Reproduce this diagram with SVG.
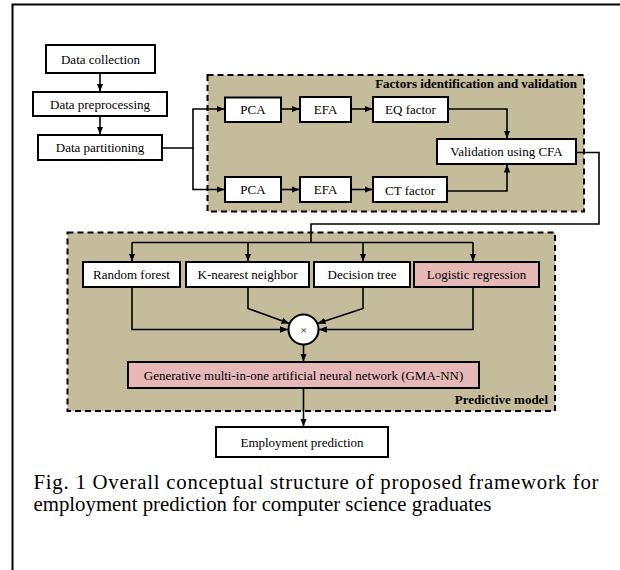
<svg xmlns="http://www.w3.org/2000/svg" width="620" height="570" viewBox="0 0 620 570">
<defs>
<marker id="ah" markerUnits="userSpaceOnUse" markerWidth="8" markerHeight="8" viewBox="0 0 8 8" refX="8" refY="4" orient="auto">
<path d="M0,0.8 L8,4 L0,7.2 Z" fill="#000"/>
</marker>
<style>
.box{fill:#fff;stroke:#000;stroke-width:2}
.pink{fill:#E6B8B7;stroke:#000;stroke-width:2}
.grp{fill:#C4BC9A;stroke:#000;stroke-width:2;stroke-dasharray:6 4}
.t{font-family:"Liberation Serif","Times New Roman",serif;font-size:13px;fill:#000;text-anchor:middle}
.b{font-family:"Liberation Serif","Times New Roman",serif;font-size:13px;font-weight:bold;fill:#000;text-anchor:end}
.c{fill:none;stroke:#000;stroke-width:1.6}
.a{marker-end:url(#ah)}
.cap{font-family:"Liberation Serif","Times New Roman",serif;font-size:20.8px;fill:#000}
</style>
</defs>
<rect width="620" height="570" fill="#fff"/>
<path d="M12.5,570 V4.5 H620" fill="none" stroke="#000" stroke-width="2"/>

<g id="group-factors">
<rect class="grp" x="207.5" y="75" width="376.5" height="136.5"/>
<text class="b" x="577" y="88">Factors identification and validation</text>
</g>
<g id="group-predictive">
<rect class="grp" x="67.5" y="232.5" width="487.5" height="178.5"/>
<text class="b" x="548" y="404">Predictive model</text>
</g>

<g id="connectors">
<path class="c a" d="M100,72.5 V91.5"/>
<path class="c a" d="M100,116 V134.5"/>
<path class="c a" d="M162,148 H193 V109 H224.5"/>
<path class="c a" d="M193,148 V189.5 H224.5"/>
<path class="c a" d="M281,109 H299.5"/>
<path class="c a" d="M281,189.5 H299.5"/>
<path class="c a" d="M351,109 H372.5"/>
<path class="c a" d="M351,189.5 H372.5"/>
<path class="c a" d="M448,109 H507 V138.5"/>
<path class="c a" d="M447,191 H507 V164.5"/>
<path class="c" d="M576,152.5 H599 V224 H311 V242.5"/>
<path class="c" d="M132,242.5 H473"/>
<path class="c a" d="M132,242.5 V261.5"/>
<path class="c a" d="M248,242.5 V261.5"/>
<path class="c a" d="M363,242.5 V261.5"/>
<path class="c a" d="M473,242.5 V261.5"/>
<path class="c a" d="M132,287 V329.5 H288"/>
<path class="c a" d="M248,287 V308.5 L289.5,323.5"/>
<path class="c a" d="M363,287 V308.5 L317.5,323.5"/>
<path class="c a" d="M473,287 V329.5 H319"/>
<path class="c a" d="M303.5,344.5 V361.5"/>
<path class="c a" d="M303.5,388.5 V426.5"/>
</g>

<g id="n-collection"><rect class="box" x="46" y="45" width="109" height="28"/><text class="t" x="100.5" y="63.5">Data collection</text></g>
<g id="n-preprocessing"><rect class="box" x="33" y="92" width="134" height="24"/><text class="t" x="100" y="108.5">Data preprocessing</text></g>
<g id="n-partitioning"><rect class="box" x="38" y="135" width="124" height="25"/><text class="t" x="100" y="152">Data partitioning</text></g>
<g id="n-pca1"><rect class="box" x="225" y="97.5" width="56" height="24.5"/><text class="t" x="253" y="114">PCA</text></g>
<g id="n-efa1"><rect class="box" x="300" y="97" width="51" height="25"/><text class="t" x="325.5" y="114">EFA</text></g>
<g id="n-eq"><rect class="box" x="373" y="97" width="75" height="25"/><text class="t" x="410.5" y="114">EQ factor</text></g>
<g id="n-pca2"><rect class="box" x="225" y="177" width="56" height="25"/><text class="t" x="253" y="194">PCA</text></g>
<g id="n-efa2"><rect class="box" x="300" y="177" width="51" height="25"/><text class="t" x="325.5" y="194">EFA</text></g>
<g id="n-ct"><rect class="box" x="373" y="177" width="74" height="25"/><text class="t" x="410" y="194.5">CT factor</text></g>
<g id="n-cfa"><rect class="box" x="437" y="139" width="139" height="25"/><text class="t" x="506.5" y="156">Validation using CFA</text></g>
<g id="n-rf"><rect class="box" x="83" y="262" width="97" height="25"/><text class="t" x="131.5" y="279">Random forest</text></g>
<g id="n-knn"><rect class="box" x="186" y="262" width="123" height="25"/><text class="t" x="247.5" y="279">K-nearest neighbor</text></g>
<g id="n-dt"><rect class="box" x="314" y="262" width="96" height="25"/><text class="t" x="362" y="279">Decision tree</text></g>
<g id="n-lr"><rect class="pink" x="414" y="262" width="125" height="25"/><text class="t" x="476.5" y="279">Logistic regression</text></g>
<g id="n-mult"><circle cx="303.5" cy="329.5" r="15" fill="#fff" stroke="#000" stroke-width="2"/><text class="t" x="303.5" y="333.5" style="font-size:11px">×</text></g>
<g id="n-gma"><rect class="pink" x="128" y="362" width="351" height="26"/><text class="t" x="303.5" y="379.5">Generative multi-in-one artificial neural network (GMA-NN)</text></g>
<g id="n-employment"><rect class="box" x="216" y="427" width="172" height="30"/><text class="t" x="302" y="446.5">Employment prediction</text></g>

<text class="cap" x="33.5" y="489" textLength="565" lengthAdjust="spacing">Fig. 1 Overall conceptual structure of proposed framework for</text>
<text class="cap" x="33.5" y="511">employment prediction for computer science graduates</text>
</svg>
